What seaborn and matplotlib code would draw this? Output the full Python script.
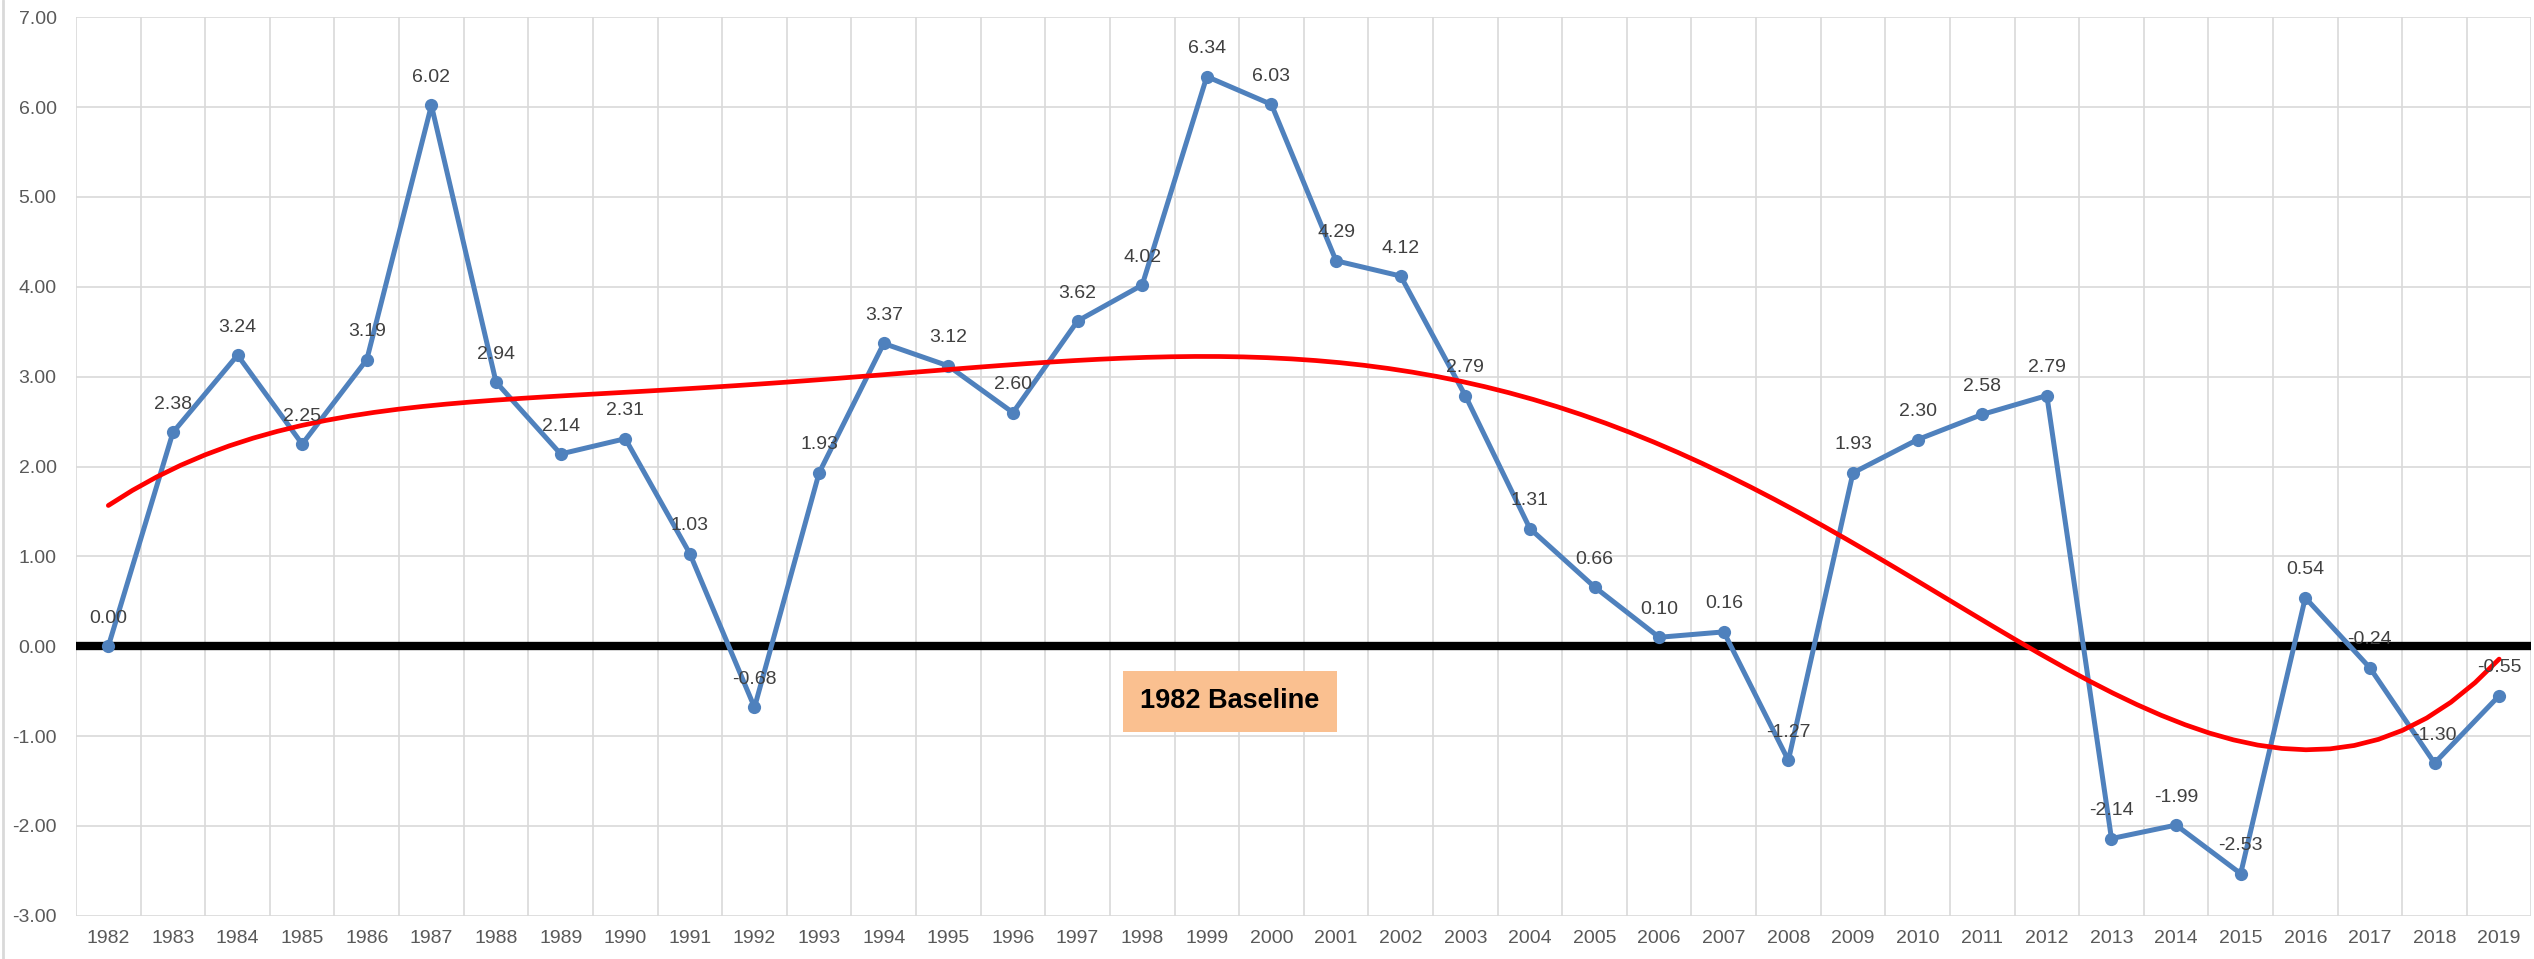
import numpy as np
import pandas as pd
import matplotlib.pyplot as plt
import seaborn as sns

sns.set_style("white")
plt.rcParams['font.family'] = ['Liberation Sans', 'DejaVu Sans']

years = list(range(1982, 2020))
values = [0.00, 2.38, 3.24, 2.25, 3.19, 6.02, 2.94, 2.14, 2.31, 1.03,
          -0.68, 1.93, 3.37, 3.12, 2.60, 3.62, 4.02, 6.34, 6.03, 4.29,
          4.12, 2.79, 1.31, 0.66, 0.10, 0.16, -1.27, 1.93, 2.30, 2.58,
          2.79, -2.14, -1.99, -2.53, 0.54, -0.24, -1.30, -0.55]
trend_order = 5  # polynomial trendline
baseline_label = "1982 Baseline"

df = pd.DataFrame({'year': years, 'value': values})
df['pos'] = np.arange(len(df))

fig = plt.figure(figsize=(25.34, 9.59), dpi=100)
ax = fig.add_axes([0.030, 0.045, 0.969, 0.937])

grid_c = '#d9d9d9'
for x in np.arange(-0.5, len(df), 1.0):
    ax.axvline(x, color=grid_c, lw=1.2, zorder=0)
for y in range(-3, 8):
    ax.axhline(y, color=grid_c, lw=1.2, zorder=0)

# baseline at zero
ax.axhline(0, color='black', lw=6, zorder=1)

sns.lineplot(data=df, x='pos', y='value', color='#4F81BD', lw=3.6,
             marker='o', markersize=9.5, markeredgewidth=0, ax=ax, zorder=3)

sns.regplot(data=df, x='pos', y='value', order=trend_order, scatter=False, ci=None,
            line_kws=dict(color='#FF0000', lw=3.4, zorder=4), ax=ax)

for p, v in zip(df['pos'], df['value']):
    ax.annotate(f"{v:.2f}", (p, v), xytext=(0, 14), textcoords='offset points',
                ha='center', va='bottom', fontsize=14, color='#404040', zorder=5)

ax.text(0.470, 0.2386, baseline_label, transform=ax.transAxes, ha='center', va='center',
        fontsize=19.5, fontweight='bold', color='black', zorder=6,
        bbox=dict(boxstyle='square,pad=0.65', fc='#FAC090', ec='none'))

ax.set_xlim(-0.5, len(df) - 0.5)
ax.set_ylim(-3, 7)
ax.set_xticks(df['pos'])
ax.set_xticklabels(df['year'])
ax.set_yticks(range(-3, 8))
ax.set_yticklabels([f"{y:.2f}" for y in range(-3, 8)])
ax.tick_params(length=0, labelsize=14, labelcolor='#595959')
ax.tick_params(axis='x', pad=10)
ax.tick_params(axis='y', pad=14)
ax.set_xlabel(None)
ax.set_ylabel(None)
for s in ax.spines.values():
    s.set_visible(False)

fig.add_artist(plt.Line2D([0.001, 0.001], [0, 1], transform=fig.transFigure, color=grid_c, lw=2))

fig.savefig('out.png', dpi=100)
